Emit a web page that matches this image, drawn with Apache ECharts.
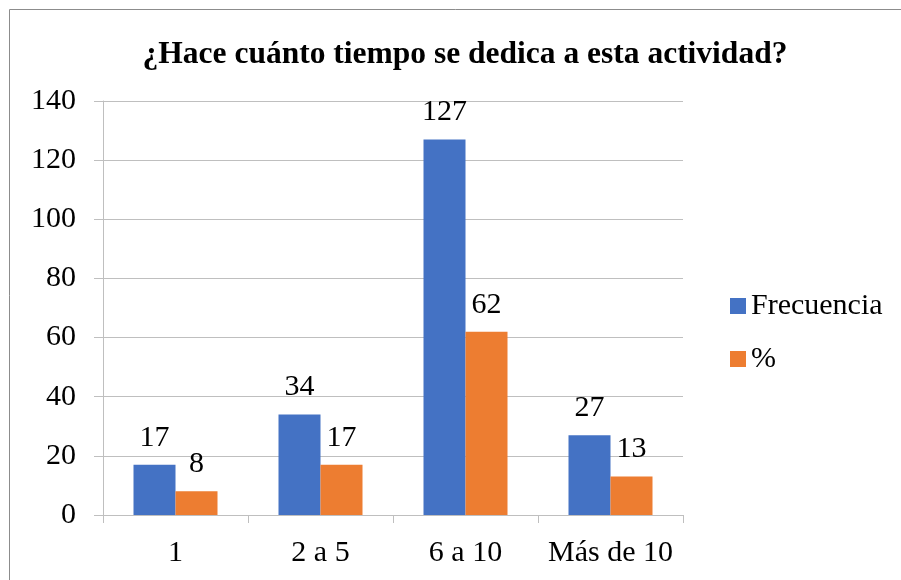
<!DOCTYPE html>
<html>
<head>
<meta charset="utf-8">
<script src="https://cdn.jsdelivr.net/npm/echarts@6/dist/echarts.min.js"></script>
<style>
  html, body { margin: 0; padding: 0; background: #fff; }
  #chart { width: 901px; height: 580px; }
</style>
</head>
<body>
<div id="chart"></div>
<script>
var categories = ['1', '2 a 5', '6 a 10', 'Más de 10'];
var frecuencia = [17, 34, 127, 27];
var porcentaje = [8, 17, 62, 13];
var yTicks = [0, 20, 40, 60, 80, 100, 120, 140];

var FONT = 'Liberation Serif';

var chart = echarts.init(document.getElementById('chart'), null, { renderer: 'canvas' });

var labelStyle = {
  show: true,
  position: 'top',
  distance: 12,
  fontFamily: FONT,
  fontSize: 30,
  color: '#000'
};

chart.setOption({
  animation: false,
  title: {
    text: '¿Hace cuánto tiempo se dedica a esta actividad?',
    left: 460,
    textAlign: 'center',
    top: 34,
    textStyle: { fontFamily: FONT, fontSize: 31.5, fontWeight: 'bold', color: '#000' }
  },
  graphic: [{
    type: 'rect',
    shape: { x: 9.5, y: 9.5, width: 900, height: 580 },
    style: { fill: 'none', stroke: '#8c8c8c', lineWidth: 1 },
    silent: true
  }],
  legend: {
    orient: 'vertical',
    left: 725,
    top: 286,
    itemWidth: 16,
    itemHeight: 16,
    itemGap: 23,
    icon: 'rect',
    textStyle: { fontFamily: FONT, fontSize: 30, color: '#000' },
    data: ['Frecuencia', '%']
  },
  grid: { left: 103, right: 218, top: 101, bottom: 65 },
  xAxis: {
    type: 'category',
    data: categories,
    axisLine: { lineStyle: { color: '#BFBFBF', width: 1 } },
    axisTick: { show: true, length: 8, lineStyle: { color: '#BFBFBF' } },
    axisLabel: { interval: 0, hideOverlap: false, fontFamily: FONT, fontSize: 30, color: '#000', margin: 23 }
  },
  yAxis: {
    type: 'value',
    min: yTicks[0],
    max: yTicks[yTicks.length - 1],
    interval: yTicks[1] - yTicks[0],
    axisLine: { show: true, lineStyle: { color: '#BFBFBF', width: 1 } },
    axisTick: { show: true, length: 9, lineStyle: { color: '#BFBFBF' } },
    splitLine: { lineStyle: { color: '#BFBFBF', width: 1 } },
    axisLabel: { fontFamily: FONT, fontSize: 30, color: '#000', margin: 27 }
  },
  series: [
    {
      name: 'Frecuencia',
      type: 'bar',
      data: frecuencia,
      barWidth: 42,
      barGap: '0%',
      itemStyle: { color: '#4472C4' },
      label: labelStyle
    },
    {
      name: '%',
      type: 'bar',
      data: porcentaje,
      barWidth: 42,
      barGap: '0%',
      itemStyle: { color: '#ED7D31' },
      label: labelStyle
    }
  ]
});
</script>
</body>
</html>
